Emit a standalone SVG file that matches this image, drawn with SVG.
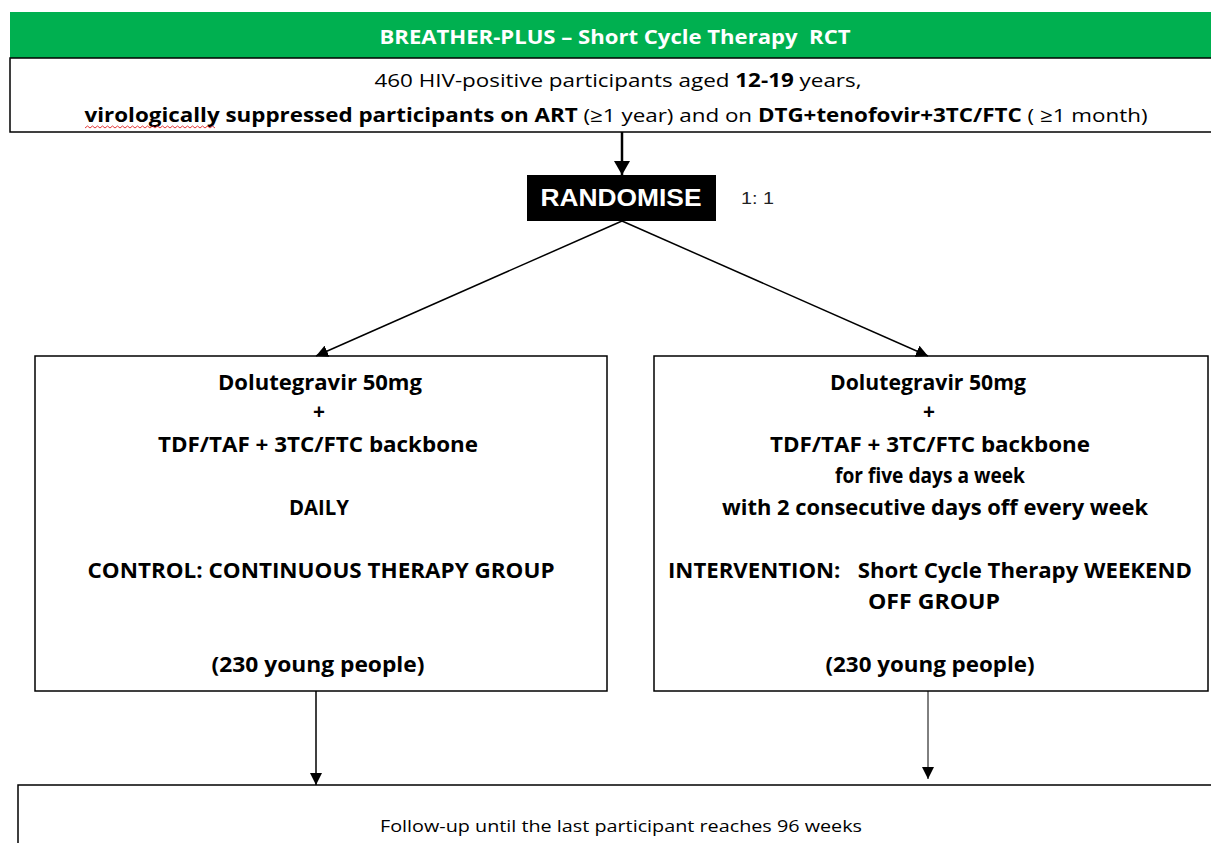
<svg xmlns="http://www.w3.org/2000/svg" width="1211" height="843" viewBox="0 0 1211 843">
<style>
  .box { fill: #ffffff; stroke: #000000; stroke-width: 1.5; }
  .t { font-family: "Open Sans", "Liberation Sans", sans-serif; fill: #000000; text-anchor: middle; }
  .b { font-weight: bold; }
  .w { fill: #ffffff; }
  .conn { stroke: #000000; fill: none; }
</style>
<defs>
  <marker id="ah" markerUnits="userSpaceOnUse" markerWidth="12" markerHeight="12" viewBox="0 0 12 12" refX="12" refY="6" orient="auto">
    <path d="M0,0 L12,6 L0,12 Z" fill="#000"/>
  </marker>
  <marker id="ahBig" markerUnits="userSpaceOnUse" markerWidth="14" markerHeight="16" viewBox="0 0 14 16" refX="14" refY="8" orient="auto">
    <path d="M0,0 L14,8 L0,16 Z" fill="#000"/>
  </marker>
</defs>
<rect width="1211" height="843" fill="#ffffff"/>

<g id="header">
  <rect x="10" y="12" width="1210" height="46" fill="#00b050"/>
  <text class="t b w" x="615" y="44" font-size="19" textLength="471" lengthAdjust="spacingAndGlyphs" xml:space="preserve">BREATHER-PLUS – Short Cycle Therapy  RCT</text>
  <rect class="box" x="10" y="58" width="1210" height="74"/>
  <text class="t" x="618" y="87" font-size="19" textLength="487" lengthAdjust="spacingAndGlyphs">460 HIV-positive participants aged <tspan class="b">12-19</tspan> years,</text>
  <text class="t" x="616" y="122" font-size="19" textLength="1063" lengthAdjust="spacingAndGlyphs"><tspan class="b">virologically suppressed participants on ART</tspan> (≥1 year) and on <tspan class="b">DTG+tenofovir+3TC/FTC</tspan> ( ≥1 month)</text>
  <path d="M85,128 l2.5,-2 l2.5,2 l2.5,-2 l2.5,2 l2.5,-2 l2.5,2 l2.5,-2 l2.5,2 l2.5,-2 l2.5,2 l2.5,-2 l2.5,2 l2.5,-2 l2.5,2 l2.5,-2 l2.5,2 l2.5,-2 l2.5,2 l2.5,-2 l2.5,2 l2.5,-2 l2.5,2 l2.5,-2 l2.5,2 l2.5,-2 l2.5,2 l2.5,-2 l2.5,2 l2.5,-2 l2.5,2 l2.5,-2 l2.5,2 l2.5,-2 l2.5,2 l2.5,-2 l2.5,2 l2.5,-2 l2.5,2 l2.5,-2 l2.5,2 l2.5,-2 l2.5,2 l2.5,-2 l2.5,2 l2.5,-2 l2.5,2 l2.5,-2 l2.5,2 l2.5,-2 l2.5,2 l2.5,-2 l2.5,2" fill="none" stroke="#e02020" stroke-width="0.9"/>
</g>

<g id="randomise">
  <rect x="527" y="175" width="189" height="46" fill="#000000"/>
  <text x="621" y="206" font-family="Liberation Sans, Arial, sans-serif" font-weight="bold" font-size="23" fill="#ffffff" text-anchor="middle" textLength="161" lengthAdjust="spacingAndGlyphs">RANDOMISE</text>
  <text x="741" y="204" font-family="Liberation Sans, Arial, sans-serif" font-size="17" fill="#222222" textLength="33" lengthAdjust="spacingAndGlyphs" xml:space="preserve">1: 1</text>
</g>

<g id="control">
  <rect class="box" x="35" y="356" width="572" height="335"/>
  <text class="t b" x="320" y="390" font-size="21" textLength="204" lengthAdjust="spacingAndGlyphs">Dolutegravir 50mg</text>
  <text class="t b" x="319" y="419" font-size="21">+</text>
  <text class="t b" x="318" y="452" font-size="21" textLength="320" lengthAdjust="spacingAndGlyphs">TDF/TAF + 3TC/FTC backbone</text>
  <text class="t b" x="319" y="515" font-size="21" textLength="60" lengthAdjust="spacingAndGlyphs">DAILY</text>
  <text class="t b" x="321" y="578" font-size="21" textLength="467" lengthAdjust="spacingAndGlyphs">CONTROL: CONTINUOUS THERAPY GROUP</text>
  <text class="t b" x="318" y="672" font-size="21" textLength="213" lengthAdjust="spacingAndGlyphs">(230 young people)</text>
</g>

<g id="intervention">
  <rect class="box" x="654" y="356" width="554" height="335"/>
  <text class="t b" x="928" y="390" font-size="21" textLength="196" lengthAdjust="spacingAndGlyphs">Dolutegravir 50mg</text>
  <text class="t b" x="929" y="419" font-size="21">+</text>
  <text class="t b" x="930" y="452" font-size="21" textLength="320" lengthAdjust="spacingAndGlyphs">TDF/TAF + 3TC/FTC backbone</text>
  <text class="t b" x="930" y="483" font-size="21" textLength="190" lengthAdjust="spacingAndGlyphs">for five days a week</text>
  <text class="t b" x="935" y="515" font-size="21" textLength="426" lengthAdjust="spacingAndGlyphs">with 2 consecutive days off every week</text>
  <text class="t b" x="930" y="578" font-size="21" textLength="524" lengthAdjust="spacingAndGlyphs" xml:space="preserve">INTERVENTION:   Short Cycle Therapy WEEKEND</text>
  <text class="t b" x="934" y="609" font-size="21" textLength="132" lengthAdjust="spacingAndGlyphs">OFF GROUP</text>
  <text class="t b" x="930" y="672" font-size="21" textLength="209" lengthAdjust="spacingAndGlyphs">(230 young people)</text>
</g>

<g id="followup">
  <rect class="box" x="18" y="785" width="1210" height="80"/>
  <text class="t" x="621" y="832" font-size="16" textLength="482" lengthAdjust="spacingAndGlyphs">Follow-up until the last participant reaches 96 weeks</text>
</g>

<g id="connectors">
  <line class="conn" x1="622" y1="132" x2="622" y2="175" stroke-width="2.5" marker-end="url(#ahBig)"/>
  <line class="conn" x1="622" y1="221" x2="316" y2="356" stroke-width="1.5" marker-end="url(#ah)"/>
  <line class="conn" x1="622" y1="221" x2="928" y2="356" stroke-width="1.5" marker-end="url(#ah)"/>
  <line class="conn" x1="316" y1="691" x2="316" y2="785" stroke-width="1.5" marker-end="url(#ah)"/>
  <line class="conn" x1="928" y1="691" x2="928" y2="779" stroke-width="1" marker-end="url(#ah)"/>
</g>
</svg>
